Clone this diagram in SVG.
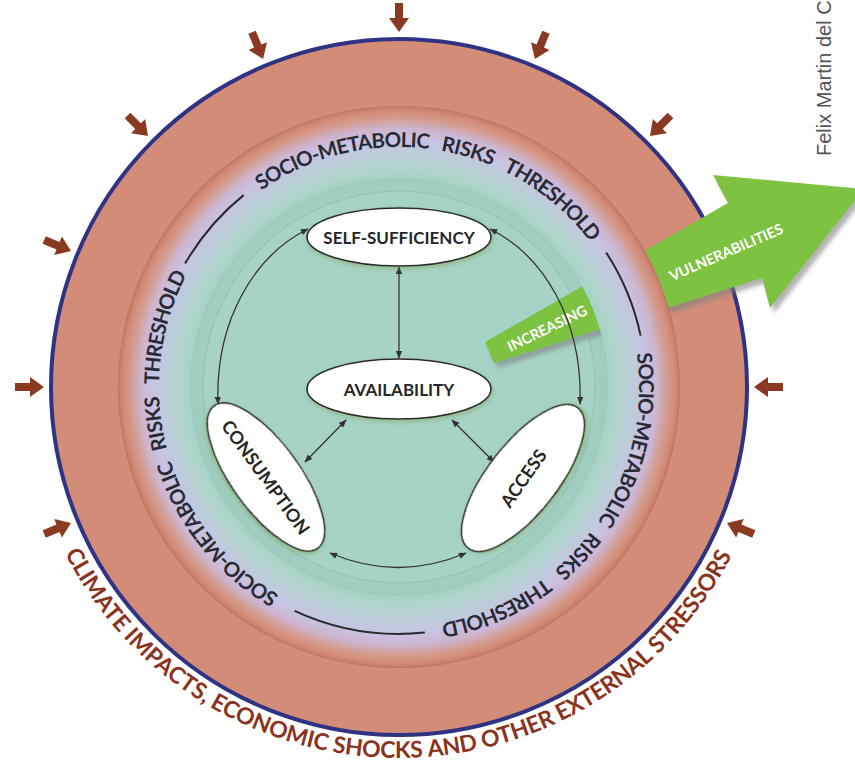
<svg xmlns="http://www.w3.org/2000/svg" width="855" height="762" viewBox="0 0 855 762">
<defs>
<style>
.thr{font-family:Lato,"Open Sans","Liberation Sans",sans-serif;font-weight:bold;font-size:20.5px;fill:#2a2a35;}
.ext{font-family:Lato,"Open Sans","Liberation Sans",sans-serif;font-weight:bold;font-size:23px;fill:#8a3320;}
.lbl{font-family:Lato,"Open Sans","Liberation Sans",sans-serif;font-weight:bold;font-size:17px;fill:#262626;text-anchor:middle;dominant-baseline:central;}
.lbl2{font-family:Lato,"Open Sans","Liberation Sans",sans-serif;font-weight:bold;font-size:18px;fill:#262626;text-anchor:middle;dominant-baseline:central;}
.arw{font-family:Lato,"Open Sans","Liberation Sans",sans-serif;font-weight:bold;font-size:14.5px;fill:#ffffff;text-anchor:middle;dominant-baseline:central;}
.dash{fill:none;stroke:#2a2a2a;stroke-width:2;}
.conn{fill:none;stroke:#333333;stroke-width:1.3;marker-start:url(#ah);marker-end:url(#ah);}
.node{fill:#ffffff;stroke:#2a2a2a;stroke-width:1.6;filter:url(#glow);}
</style>
<marker id="ah" viewBox="0 0 10 10" refX="9" refY="5" markerWidth="8" markerHeight="8" markerUnits="userSpaceOnUse" orient="auto-start-reverse"><path d="M0,1 L10,5 L0,9 z" fill="#333333"/></marker>
<polygon id="st" points="0,0 -14,-10 -14,-4 -29,-4 -29,4 -14,4 -14,10" fill="#8b3a22"/>
<radialGradient id="band" gradientUnits="userSpaceOnUse" cx="399" cy="387" r="281">
<stop offset="0.74" stop-color="#a5d2c5"/>
<stop offset="0.78" stop-color="#b0d4cc"/>
<stop offset="0.84" stop-color="#bfcbdc"/>
<stop offset="0.88" stop-color="#c8c3e2"/>
<stop offset="0.92" stop-color="#cdb5cf"/>
<stop offset="0.955" stop-color="#d39c8f"/>
<stop offset="0.98" stop-color="#d48c79"/>
<stop offset="1" stop-color="#c27a68"/>
</radialGradient>
<radialGradient id="teal" gradientUnits="userSpaceOnUse" cx="399" cy="387" r="212">
<stop offset="0.9" stop-color="#a4d1c4"/>
<stop offset="1" stop-color="#9ccabd"/>
</radialGradient>
<filter id="glow" x="-20%" y="-30%" width="140%" height="160%">
<feDropShadow dx="1" dy="2" stdDeviation="2.5" flood-color="#7a9a40" flood-opacity="0.5"/>
</filter>
<filter id="shadow" x="-10%" y="-10%" width="130%" height="130%">
<feDropShadow dx="4" dy="5" stdDeviation="2" flood-color="#808080" flood-opacity="0.6"/>
</filter>
<path id="pTop" d="M261.3,190.4 A240,240 0 0 1 590.7,242.6"/>
<path id="pRight" d="M636.7,353.6 A240,240 0 0 1 440.7,623.4"/>
<path id="pLeft" d="M279,594.8 A240,240 0 0 1 187.1,274.3"/>
<path id="pExt" d="M64.9,553.2 A375,375 0 0 0 733.1,553.2"/>
</defs>

<g id="background">
<rect width="855" height="762" fill="#ffffff"/>
<circle cx="399" cy="387" r="348" fill="#d38c78" stroke="#2f3383" stroke-width="4"/>
<circle cx="399" cy="387" r="212" fill="url(#teal)"/>
<circle cx="399" cy="387" r="196" fill="#a6d3c6" stroke="#98c5b8" stroke-width="1.5"/>
</g>

<g id="increasing-vulnerabilities">
<polygon points="485,342 728,203 713,175 864,189 770,308 762,278 494,363" fill="#7ec242" filter="url(#shadow)"/>
</g>

<g id="threshold-band">
<path d="M118,387 A281,281 0 1 0 680,387 A281,281 0 1 0 118,387 Z M190,387 A209,209 0 1 0 608,387 A209,209 0 1 0 190,387 Z" fill="url(#band)" fill-rule="evenodd"/>
<circle cx="399" cy="387" r="280.5" fill="none" stroke="#b87562" stroke-width="1.2" opacity="0.6"/>
<path class="dash" d="M185.1,263.5 A247,247 0 0 1 243.6,195.1"/>
<path class="dash" d="M606.2,252.5 A247,247 0 0 1 640.6,335.6"/>
<path class="dash" d="M424.8,632.6 A247,247 0 0 1 294.6,610.9"/>
<text class="thr"><textPath href="#pTop" startOffset="0" textLength="176.8" lengthAdjust="spacing">SOCIO-METABOLIC</textPath></text>
<text class="thr"><textPath href="#pTop" startOffset="188.5" textLength="53.6" lengthAdjust="spacing">RISKS</textPath></text>
<text class="thr"><textPath href="#pTop" startOffset="253.9" textLength="114.4" lengthAdjust="spacing">THRESHOLD</textPath></text>
<text class="thr"><textPath href="#pRight" startOffset="0" textLength="176.8" lengthAdjust="spacing">SOCIO-METABOLIC</textPath></text>
<text class="thr"><textPath href="#pRight" startOffset="188.5" textLength="53.6" lengthAdjust="spacing">RISKS</textPath></text>
<text class="thr"><textPath href="#pRight" startOffset="253.9" textLength="114.4" lengthAdjust="spacing">THRESHOLD</textPath></text>
<text class="thr"><textPath href="#pLeft" startOffset="0" textLength="176.8" lengthAdjust="spacing">SOCIO-METABOLIC</textPath></text>
<text class="thr"><textPath href="#pLeft" startOffset="188.5" textLength="53.6" lengthAdjust="spacing">RISKS</textPath></text>
<text class="thr"><textPath href="#pLeft" startOffset="253.9" textLength="114.4" lengthAdjust="spacing">THRESHOLD</textPath></text>
</g>

<g id="arrow-labels">
<text class="arw" transform="translate(547,328) rotate(-26)">INCREASING</text>
<text class="arw" transform="translate(726,252) rotate(-23.5)">VULNERABILITIES</text>
</g>

<g id="stressors">
<use href="#st" transform="translate(399,32) rotate(90)"/>
<use href="#st" transform="translate(263.1,59) rotate(67.5)"/>
<use href="#st" transform="translate(148,136) rotate(45)"/>
<use href="#st" transform="translate(71,251.1) rotate(22.5)"/>
<use href="#st" transform="translate(44,387)"/>
<use href="#st" transform="translate(71,522.9) rotate(-22.5)"/>
<use href="#st" transform="translate(534.9,59) rotate(112.5)"/>
<use href="#st" transform="translate(650,136) rotate(135)"/>
<use href="#st" transform="translate(754,387) rotate(180)"/>
<use href="#st" transform="translate(727,522.9) rotate(202.5)"/>
<text class="ext"><textPath href="#pExt" startOffset="0" textLength="97.2" lengthAdjust="spacing">CLIMATE</textPath></text>
<text class="ext"><textPath href="#pExt" startOffset="102.3" textLength="105.9" lengthAdjust="spacing">IMPACTS,</textPath></text>
<text class="ext"><textPath href="#pExt" startOffset="213.3" textLength="126.3" lengthAdjust="spacing">ECONOMIC</textPath></text>
<text class="ext"><textPath href="#pExt" startOffset="344.7" textLength="91.7" lengthAdjust="spacing">SHOCKS</textPath></text>
<text class="ext"><textPath href="#pExt" startOffset="441.5" textLength="50.6" lengthAdjust="spacing">AND</textPath></text>
<text class="ext"><textPath href="#pExt" startOffset="497.2" textLength="76.9" lengthAdjust="spacing">OTHER</textPath></text>
<text class="ext"><textPath href="#pExt" startOffset="579.2" textLength="113.2" lengthAdjust="spacing">EXTERNAL</textPath></text>
<text class="ext"><textPath href="#pExt" startOffset="697.5" textLength="124.5" lengthAdjust="spacing">STRESSORS</textPath></text>
</g>

<g id="connectors">
<path class="conn" d="M399,267 L399,358"/>
<path class="conn" d="M346,420 L305,462"/>
<path class="conn" d="M452,420 L494,462"/>
<path class="conn" d="M330,553 Q398,582 466,553"/>
<path class="conn" d="M308,229 C255,255 215,320 218,404"/>
<path class="conn" d="M490,229 C543,255 583,320 580,404"/>
</g>

<g id="node-self-sufficiency">
<ellipse class="node" cx="399" cy="237" rx="92" ry="29"/>
<text class="lbl" x="399" y="237">SELF-SUFFICIENCY</text>
</g>
<g id="node-availability">
<ellipse class="node" cx="399" cy="389" rx="92" ry="30"/>
<text class="lbl" x="399" y="389">AVAILABILITY</text>
</g>
<g id="node-consumption">
<ellipse class="node" cx="266" cy="477" rx="88" ry="34" transform="rotate(54 266 477)"/>
<text class="lbl2" transform="translate(266,477) rotate(54)">CONSUMPTION</text>
</g>
<g id="node-access">
<ellipse class="node" cx="523" cy="478" rx="89" ry="35" transform="rotate(-52 523 478)"/>
<text class="lbl2" transform="translate(523,478) rotate(-55)">ACCESS</text>
</g>

<g id="credit">
<text transform="translate(831,156) rotate(-90)" font-family="'Liberation Sans',Arial,sans-serif" font-size="20" fill="#555555">Felix Martin del C</text>
</g>
</svg>
